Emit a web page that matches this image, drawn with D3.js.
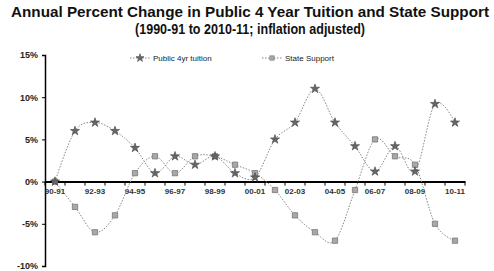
<!DOCTYPE html>
<html><head><meta charset="utf-8">
<script src="https://cdn.jsdelivr.net/npm/d3@7"></script>
<style>body{margin:0;background:#fff}svg{display:block}</style>
</head><body>
<svg id="c" width="494" height="271"></svg>
<script>
const categories = ["1990-91","1991-92","1992-93","1993-94","1994-95","1995-96","1996-97","1997-98","1998-99","1999-00","2000-01","2001-02","2002-03","2003-04","2004-05","2005-06","2006-07","2007-08","2008-09","2009-10","2010-11"];
const tickLabels = ["90-91","92-93","94-95","96-97","98-99","00-01","02-03","04-05","06-07","08-09","10-11"];
const tuition = [0,6,7,6,4,1,3,2,3,1,0.5,5,7,11,7,4.2,1.2,4.2,1.2,9.2,7];
const stateSupport = [0,-3,-6,-4,1,3,1,3,3,2,1,-1,-4,-6,-7,-1,5,3,2,-5,-7];
const yTicks = [15,10,5,0,-5,-10];

const svg = d3.select("#c");
const font = "'Liberation Sans', Arial, sans-serif";

svg.append("text").attr("x",250).attr("y",17).attr("text-anchor","middle")
  .attr("font-family",font).attr("font-weight","bold").attr("font-size",14)
  .attr("textLength",478).attr("lengthAdjust","spacingAndGlyphs").attr("fill","#111")
  .text("Annual Percent Change in Public 4 Year Tuition and State Support");
svg.append("text").attr("x",250).attr("y",34).attr("text-anchor","middle")
  .attr("font-family",font).attr("font-weight","bold").attr("font-size",14)
  .attr("textLength",230).attr("lengthAdjust","spacingAndGlyphs").attr("fill","#111")
  .text("(1990-91 to 2010-11; inflation adjusted)");

const x = d3.scaleBand().domain(categories).range([45,465]);
const y = d3.scaleLinear().domain([-10,15]).range([266,55]);
const cx = d => x(d) + x.bandwidth()/2;

// y axis
const ya = svg.append("g").attr("transform","translate(45,0)")
  .call(d3.axisLeft(y).tickValues(yTicks).tickFormat(d=>d+"%").tickSize(3).tickPadding(4));
ya.select(".domain").attr("stroke","#000").attr("stroke-width",1.5);
ya.selectAll("text").attr("font-family",font).attr("font-weight","bold").attr("font-size",9).attr("fill","#222");

// x axis at 0
const xa = svg.append("g").attr("transform",`translate(0,${y(0)})`)
  .call(d3.axisBottom(x).tickValues([]).tickSize(0).tickSizeOuter(0));
xa.select(".domain").attr("stroke","#000").attr("stroke-width",2);
const bounds = categories.map(c=>x(c)).concat([x.range()[1]]);
svg.append("g").selectAll("line").data(bounds).join("line")
  .attr("x1",d=>d).attr("x2",d=>d).attr("y1",y(0)).attr("y2",y(0)+4)
  .attr("stroke","#000").attr("stroke-width",1);
svg.append("g").selectAll("text").data(tickLabels).join("text")
  .attr("x",(d,i)=>cx(categories[i*2])).attr("y",y(0)+12)
  .attr("text-anchor","middle").attr("font-family",font).attr("font-weight","bold")
  .attr("font-size",8).attr("fill","#333").text(d=>d);

const line = d3.line().x((d,i)=>cx(categories[i])).y(d=>y(d)).curve(d3.curveCatmullRom.alpha(0));

svg.append("path").datum(stateSupport).attr("d",line).attr("fill","none")
  .attr("stroke","#888").attr("stroke-width",1).attr("stroke-dasharray","1.5,1.5");
svg.append("path").datum(tuition).attr("d",line).attr("fill","none")
  .attr("stroke","#888").attr("stroke-width",1).attr("stroke-dasharray","1.5,1.5");

const sq = d3.symbol().type(d3.symbolSquare).size(28)();
const st = d3.symbol().type(d3.symbolStar).size(26)();
svg.append("g").selectAll("path").data(stateSupport).join("path")
  .attr("transform",(d,i)=>`translate(${cx(categories[i])},${y(d)})`)
  .attr("d",sq).attr("fill","#a8a8a8").attr("stroke","#777").attr("stroke-width",0.8);
svg.append("g").selectAll("path").data(tuition).join("path")
  .attr("transform",(d,i)=>`translate(${cx(categories[i])},${y(d)})`)
  .attr("d",st).attr("fill","#666").attr("stroke","#444").attr("stroke-width",0.6);

// legend
const lsq = d3.symbol().type(d3.symbolSquare).size(20)();
const lst = d3.symbol().type(d3.symbolStar).size(20)();
const leg = [{name:"Public 4yr tuition",x:130,sym:lst,fill:"#666",stroke:"#444"},
             {name:"State Support",x:262,sym:lsq,fill:"#a8a8a8",stroke:"#777"}];
const lg = svg.append("g").selectAll("g").data(leg).join("g").attr("transform",d=>`translate(${d.x},58)`);
lg.append("line").attr("x1",0).attr("x2",20).attr("stroke","#888").attr("stroke-dasharray","1.5,1.5");
lg.append("path").attr("transform","translate(10,0)").attr("d",d=>d.sym).attr("fill",d=>d.fill).attr("stroke",d=>d.stroke).attr("stroke-width",0.6);
lg.append("text").attr("x",23).attr("y",3).attr("font-family",font).attr("font-size",8)
  .attr("fill","#222").text(d=>d.name);
</script>
</body></html>
